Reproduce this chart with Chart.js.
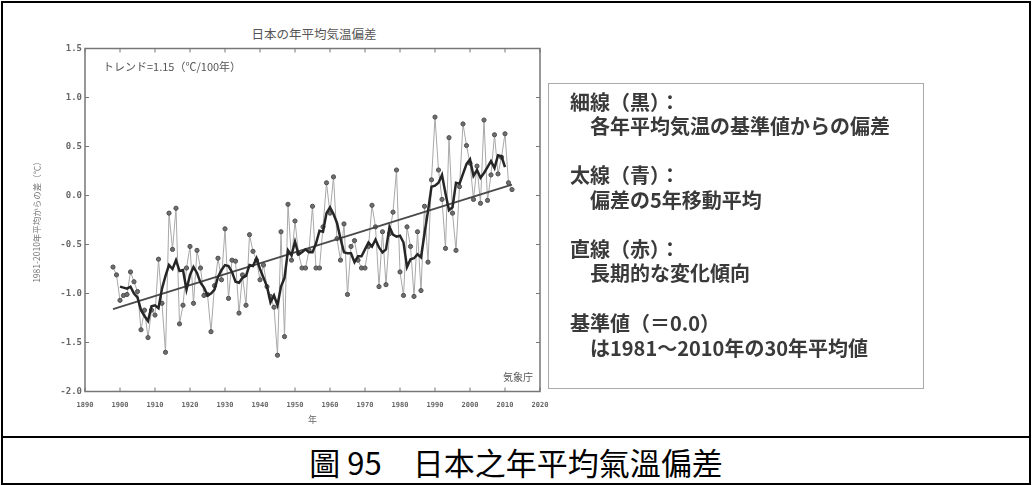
<!DOCTYPE html>
<html>
<head>
<meta charset="utf-8">
<script src="https://cdn.jsdelivr.net/npm/chart.js@4.4.1/dist/chart.umd.min.js"></script>
<style>
  body { margin: 0; width: 1032px; height: 485px; background: #fff; position: relative; overflow: hidden; font-family: "Noto Sans CJK JP", sans-serif; }
  #frame { position: absolute; left: 1px; top: 1px; width: 1026px; height: 480px; border: 2px solid #000; }
  #divider { position: absolute; left: 1px; top: 436px; width: 1030px; height: 2px; background: #000; }
  #chartWrap { position: absolute; left: 0; top: 0; width: 560px; height: 432px; }
  #title { position: absolute; left: 214px; top: 27px; width: 200px; text-align: center; font-size: 12.5px; line-height: 14px; color: #555; }
  #legendBox { position: absolute; left: 548px; top: 83px; width: 374px; height: 304px; border: 1.5px solid #aaa; }
  .lb { position: absolute; font-size: 20px; font-weight: bold; color: #3a3a3a; white-space: nowrap; line-height: 24px; }
  #caption { position: absolute; left: 0; top: 445px; width: 1032px; text-align: center; font-family: "Noto Sans CJK TC", sans-serif; font-size: 31px; line-height: 34px; color: #000; }
</style>
</head>
<body>
<div id="frame"></div>
<div id="divider"></div>
<div id="title">日本の年平均気温偏差</div>
<div id="chartWrap"><canvas id="tempChart" width="560" height="432"></canvas></div>
<div id="legendBox"></div>
<div class="lb" style="left:570px; top:90px;">細線（黒）：</div>
<div class="lb" style="left:590px; top:114px;">各年平均気温の基準値からの偏差</div>
<div class="lb" style="left:570px; top:163px;">太線（青）：</div>
<div class="lb" style="left:590px; top:188px;">偏差の5年移動平均</div>
<div class="lb" style="left:570px; top:237px;">直線（赤）：</div>
<div class="lb" style="left:590px; top:261px;">長期的な変化傾向</div>
<div class="lb" style="left:570px; top:311px;">基準値（＝0.0）</div>
<div class="lb" style="left:590px; top:336px;">は1981～2010年の30年平均値</div>
<div id="caption">圖 95　日本之年平均氣溫偏差</div>

<script>
// Annual mean temperature anomaly in Japan (deg C, vs 1981-2010)
const years = [
    1898, 1899, 1900, 1901, 1902, 1903, 1904, 1905, 1906, 1907,
    1908, 1909, 1910, 1911, 1912, 1913, 1914, 1915, 1916, 1917,
    1918, 1919, 1920, 1921, 1922, 1923, 1924, 1925, 1926, 1927,
    1928, 1929, 1930, 1931, 1932, 1933, 1934, 1935, 1936, 1937,
    1938, 1939, 1940, 1941, 1942, 1943, 1944, 1945, 1946, 1947,
    1948, 1949, 1950, 1951, 1952, 1953, 1954, 1955, 1956, 1957,
    1958, 1959, 1960, 1961, 1962, 1963, 1964, 1965, 1966, 1967,
    1968, 1969, 1970, 1971, 1972, 1973, 1974, 1975, 1976, 1977,
    1978, 1979, 1980, 1981, 1982, 1983, 1984, 1985, 1986, 1987,
    1988, 1989, 1990, 1991, 1992, 1993, 1994, 1995, 1996, 1997,
    1998, 1999, 2000, 2001, 2002, 2003, 2004, 2005, 2006, 2007,
    2008, 2009, 2010, 2011, 2012
];
const anomalies = [
    -0.73, -0.81, -1.07, -1.02, -1.01, -0.78, -0.88, -0.98, -1.37, -1.17,
    -1.45, -1.17, -1.22, -0.65, -1.10, -1.60, -0.18, -0.55, -0.13, -1.31,
    -1.12, -0.74, -0.52, -1.10, -0.56, -0.74, -1.02, -1.01, -1.39, -0.92,
    -0.64, -0.86, -0.34, -1.05, -0.66, -0.67, -1.20, -0.81, -1.12, -0.40,
    -0.57, -0.66, -0.86, -0.71, -0.93, -1.03, -1.14, -1.63, -0.37, -1.44,
    -0.09, -0.66, -0.26, -0.59, -0.74, -0.74, -0.56, -0.11, -0.74, -0.74,
    -0.32, 0.13, -0.18, 0.19, -0.44, -0.66, -0.29, -1.01, -0.52, -0.46,
    -0.66, -0.74, -0.74, -0.52, -0.10, -0.32, -0.93, -0.37, -0.91, -0.39,
    -0.17, 0.26, -0.78, -1.02, -0.32, -0.52, -1.03, -0.37, -0.97, -0.11,
    -0.68, 0.16, 0.80, 0.26, -0.04, -0.54, 0.59, -0.18, -0.56, 0.09,
    0.73, 0.51, 0.33, -0.04, 0.30, -0.08, 0.77, -0.05, 0.21, 0.62,
    0.22, 0.39, 0.63, 0.13, 0.06
];

// 5-year running mean (thick line)
const maYears = [
    1900, 1901, 1902, 1903, 1904, 1905, 1906, 1907, 1908, 1909,
    1910, 1911, 1912, 1913, 1914, 1915, 1916, 1917, 1918, 1919,
    1920, 1921, 1922, 1923, 1924, 1925, 1926, 1927, 1928, 1929,
    1930, 1931, 1932, 1933, 1934, 1935, 1936, 1937, 1938, 1939,
    1940, 1941, 1942, 1943, 1944, 1945, 1946, 1947, 1948, 1949,
    1950, 1951, 1952, 1953, 1954, 1955, 1956, 1957, 1958, 1959,
    1960, 1961, 1962, 1963, 1964, 1965, 1966, 1967, 1968, 1969,
    1970, 1971, 1972, 1973, 1974, 1975, 1976, 1977, 1978, 1979,
    1980, 1981, 1982, 1983, 1984, 1985, 1986, 1987, 1988, 1989,
    1990, 1991, 1992, 1993, 1994, 1995, 1996, 1997, 1998, 1999,
    2000, 2001, 2002, 2003, 2004, 2005, 2006, 2007, 2008, 2009,
    2010
];
const maValues = [
    -0.93, -0.94, -0.95, -0.93, -1.00, -1.04, -1.17, -1.23, -1.28, -1.13,
    -1.12, -1.15, -0.95, -0.82, -0.71, -0.75, -0.66, -0.77, -0.76, -0.96,
    -0.81, -0.73, -0.79, -0.89, -0.94, -1.02, -1.00, -0.96, -0.83, -0.76,
    -0.71, -0.72, -0.78, -0.88, -0.89, -0.84, -0.82, -0.71, -0.72, -0.64,
    -0.75, -0.84, -0.93, -1.09, -1.02, -1.12, -0.93, -0.84, -0.56, -0.61,
    -0.47, -0.60, -0.58, -0.55, -0.58, -0.58, -0.49, -0.36, -0.37, -0.18,
    -0.12, -0.19, -0.28, -0.44, -0.58, -0.59, -0.59, -0.68, -0.62, -0.62,
    -0.55, -0.48, -0.52, -0.45, -0.53, -0.58, -0.55, -0.32, -0.40, -0.42,
    -0.41, -0.48, -0.73, -0.65, -0.64, -0.60, -0.63, -0.39, -0.16, 0.09,
    0.10, 0.13, 0.21, 0.02, -0.15, -0.12, 0.13, 0.12, 0.22, 0.32,
    0.37, 0.20, 0.26, 0.18, 0.23, 0.29, 0.35, 0.28, 0.41, 0.40,
    0.29
];

// Long-term trend (1.15 deg C / 100 years), end points
const trendYears = [1898, 2012];
const trendValues = [-1.16, 0.11];

// Axis ticks
const xTickYears = [1890, 1900, 1910, 1920, 1930, 1940, 1950, 1960, 1970, 1980, 1990, 2000, 2010, 2020];
const yTickValues = [-2.0, -1.5, -1.0, -0.5, 0.0, 0.5, 1.0, 1.5];

const trendLabel = 'トレンド=1.15（℃/100年）';
const sourceLabel = '気象庁';

const toPoints = (xs, ys) => xs.map((x, i) => ({ x: x, y: ys[i] }));

// Frame, inward tick marks and the two notes inside the plot
const frameTicks = {
    id: 'frameTicks',
    afterDraw(chart) {
        const ctx = chart.ctx;
        const a = chart.chartArea;
        const xs = chart.scales.x;
        const ys = chart.scales.y;
        ctx.save();
        ctx.strokeStyle = '#777';
        ctx.lineWidth = 1.5;
        ctx.strokeRect(a.left, a.top, a.right - a.left, a.bottom - a.top);
        ctx.lineWidth = 1;
        ctx.beginPath();
        xTickYears.forEach(v => {
            const px = xs.getPixelForValue(v);
            ctx.moveTo(px, a.bottom); ctx.lineTo(px, a.bottom - 4);
            ctx.moveTo(px, a.top); ctx.lineTo(px, a.top + 4);
        });
        yTickValues.forEach(v => {
            const py = ys.getPixelForValue(v);
            ctx.moveTo(a.left, py); ctx.lineTo(a.left + 4, py);
            ctx.moveTo(a.right, py); ctx.lineTo(a.right - 4, py);
        });
        ctx.stroke();

        ctx.fillStyle = '#555';
        ctx.textBaseline = 'middle';
        ctx.font = '11px "Noto Sans CJK JP"';
        ctx.textAlign = 'left';
        ctx.fillText(trendLabel, a.left + 18, a.top + 18.5);
        ctx.font = '10px "Noto Sans CJK JP"';
        ctx.textAlign = 'right';
        ctx.fillText(sourceLabel, a.right - 7, a.bottom - 14.5);
        ctx.restore();
    }
};

const ctx = document.getElementById('tempChart').getContext('2d');
new Chart(ctx, {
    type: 'line',
    data: {
        datasets: [
            {
                label: '5年移動平均',
                data: toPoints(maYears, maValues),
                borderColor: '#262626',
                borderWidth: 2.5,
                pointRadius: 0,
                tension: 0,
                order: 1
            },
            {
                label: '長期的な変化傾向',
                data: toPoints(trendYears, trendValues),
                borderColor: '#4a4a4a',
                borderWidth: 1.8,
                pointRadius: 0,
                order: 2
            },
            {
                label: '各年の偏差',
                data: toPoints(years, anomalies),
                borderColor: '#a8a8a8',
                borderWidth: 1,
                pointRadius: 2.1,
                pointBackgroundColor: '#6e6e6e',
                pointBorderColor: '#4e4e4e',
                pointBorderWidth: 1,
                tension: 0,
                order: 3
            }
        ]
    },
    options: {
        responsive: false,
        animation: false,
        devicePixelRatio: 1,
        layout: { padding: { left: 32, right: 20, top: 48.5, bottom: 0 } },
        plugins: {
            legend: { display: false },
            tooltip: { enabled: false }
        },
        scales: {
            x: {
                type: 'linear',
                min: 1890,
                max: 2020,
                afterBuildTicks: scale => { scale.ticks = xTickYears.map(v => ({ value: v })); },
                afterFit: scale => { scale.height = 40.5; },
                grid: { display: false, drawTicks: false },
                border: { display: false },
                ticks: {
                    padding: 9,
                    maxRotation: 0,
                    autoSkip: false,
                    color: '#666',
                    font: { family: 'DejaVu Sans Mono', size: 7, weight: 'bold' },
                    callback: v => String(v)
                },
                title: {
                    display: true,
                    text: '年',
                    color: '#666',
                    font: { family: 'Noto Sans CJK JP', size: 9 },
                    padding: { top: 0, bottom: 7 }
                }
            },
            y: {
                min: -2.0,
                max: 1.5,
                afterBuildTicks: scale => { scale.ticks = yTickValues.map(v => ({ value: v })); },
                afterFit: scale => { scale.width = 53; },
                grid: { display: false, drawTicks: false },
                border: { display: false },
                ticks: {
                    padding: 3,
                    autoSkip: false,
                    color: '#666',
                    font: { family: 'DejaVu Sans Mono', size: 9, weight: 'bold' },
                    callback: v => v.toFixed(1)
                },
                title: {
                    display: true,
                    text: '1981-2010年平均からの差（℃）',
                    color: '#777',
                    font: { family: 'Noto Sans CJK JP', size: 8.5 },
                    padding: { top: 0, bottom: 0 }
                }
            }
        }
    },
    plugins: [frameTicks]
});
</script>
</body>
</html>
